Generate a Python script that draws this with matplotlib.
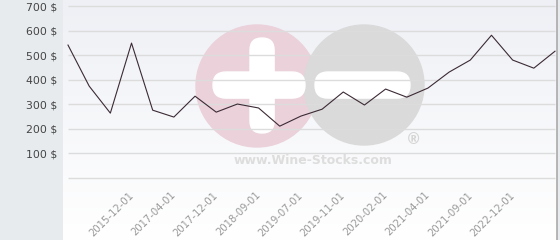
import numpy as np
import matplotlib.pyplot as plt
from matplotlib.patches import Circle, FancyBboxPatch
from matplotlib.colors import LinearSegmentedColormap

# prices ($), one per period
prices = [541, 374, 264, 549, 276, 248, 333, 268, 301, 285, 211, 252,
          280, 350, 297, 362, 329, 366, 431, 480, 581, 480, 447, 516]
tick_labels = ['2015-12-01', '2017-04-01', '2017-12-01', '2018-09-01', '2019-07-01',
               '2019-11-01', '2020-02-01', '2021-04-01', '2021-09-01', '2022-12-01']
y_ticks = [100, 200, 300, 400, 500, 600, 700]
grid_levels = [0, 100, 200, 300, 400, 500, 600, 700]

W, H = 560, 240
fig = plt.figure(figsize=(W / 100, H / 100), dpi=100)
fig.patch.set_facecolor('#e7ebee')

n = len(prices)
px_per_idx = (555 - 68) / (n - 1)
px_per_val = (178 - 6) / 700
pos = [63 / W, 0, (557 - 63) / W, 1]

# background gradient of the plot panel
grad = np.linspace(0, 1, 256).reshape(-1, 1)
cmap = LinearSegmentedColormap.from_list('bg', ['#ffffff', '#eef0f5'])
ax_bg = fig.add_axes(pos, zorder=0)
ax_bg.imshow(grad, cmap=cmap, aspect='auto', origin='lower', extent=[0, 1, 0, 1])
ax_bg.axis('off')

# watermark, in pixel coordinates
ax_wm = fig.add_axes([0, 0, 1, 1], zorder=0.5)
ax_wm.set_xlim(0, W)
ax_wm.set_ylim(H, 0)
ax_wm.axis('off')
ax_wm.add_patch(Circle((257, 86), 61, color='#ebd1da', zorder=1))
ax_wm.add_patch(Circle((364, 85), 60, color='#dadada', zorder=2))
ax_wm.add_patch(FancyBboxPatch((250 + 12, 38 + 12), 0.1, 95 - 24,
                               boxstyle='round,pad=12', color='white', zorder=3))
ax_wm.add_patch(FancyBboxPatch((213 + 13, 72 + 13), 92 - 26, 0.1,
                               boxstyle='round,pad=13', color='white', zorder=3))
ax_wm.add_patch(FancyBboxPatch((315 + 13, 72 + 13), 95 - 26, 0.1,
                               boxstyle='round,pad=13', color='white', zorder=3))
ax_wm.text(413, 139, '®', fontsize=11, color='#d5d5d5', ha='center', va='center',
           fontweight='bold', zorder=3)
ax_wm.text(313, 160, 'www.Wine-Stocks.com', fontsize=9, color='#dddddd',
           ha='center', va='center', fontweight='bold', zorder=3)

# main chart
ax = fig.add_axes(pos, zorder=1)
ax.patch.set_visible(False)
ax.set_xlim(-5 / px_per_idx, (n - 1) + 2 / px_per_idx)
ax.set_ylim(-(240 - 178) / px_per_val, 700 + 6 / px_per_val)
for s in ['top', 'left', 'bottom']:
    ax.spines[s].set_visible(False)
ax.spines['right'].set_color('#aaaaaa')
ax.spines['right'].set_linewidth(1.2)

ax.hlines(grid_levels, 0, n - 1, color='#dcdcdc', linewidth=1.0, zorder=1)
ax.plot(range(n), prices, color='#3b2a35', linewidth=0.8, zorder=5)

ax.set_yticks(y_ticks)
ax.set_yticklabels([f'{v} $' for v in y_ticks], fontsize=7.8, color='#444444')
ax.tick_params(axis='y', length=0, pad=4)
ax.set_xticks([])

for k, lab in enumerate(tick_labels):
    i = 3 + 2 * k
    ax.text(i - 0.15, -(190 - 178) / px_per_val, lab, rotation=45, rotation_mode='anchor',
            ha='right', va='top', fontsize=7.2, color='#999999')

fig.savefig('out.png', dpi=100, facecolor=fig.get_facecolor())
